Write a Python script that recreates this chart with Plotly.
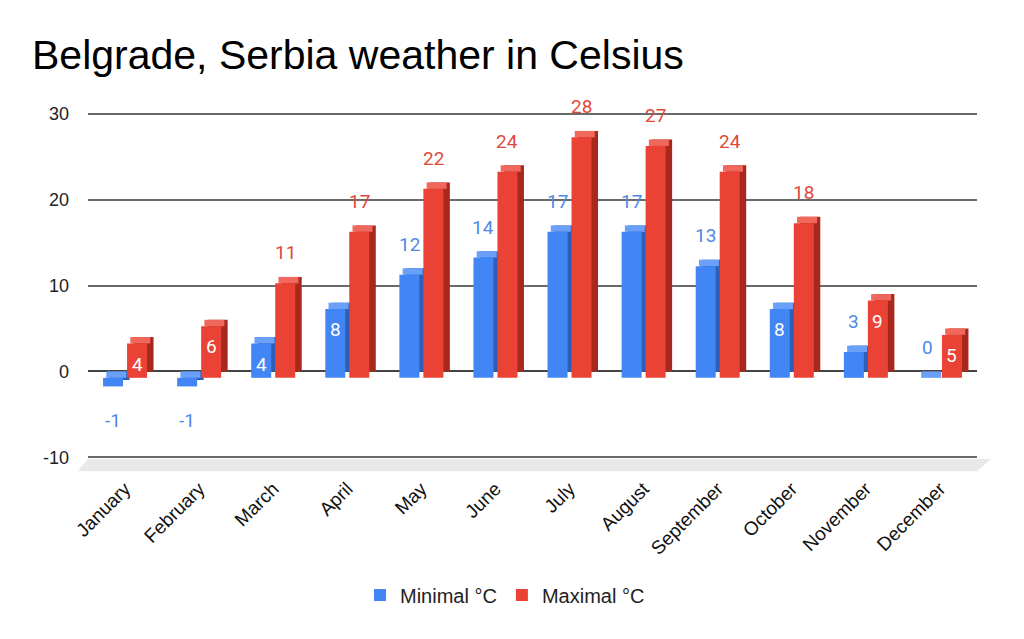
import plotly.graph_objects as go

# ---- data ----
months = ["January", "February", "March", "April", "May", "June", "July",
          "August", "September", "October", "November", "December"]
min_c = [-1, -1, 4, 8, 12, 14, 17, 17, 13, 8, 3, 0]
max_c = [4, 6, 11, 17, 22, 24, 28, 27, 24, 18, 9, 5]
y_ticks = [-10, 0, 10, 20, 30]
y_tick_text = ["-10", "0", "10", "20", "30"]

# which labels sit inside the bar (style choice as in the reference)
min_inside = [False, False, True, True, False, False, False, False, False, True, False, False]
max_inside = [True, True, False, False, False, False, False, False, False, False, True, True]

# ---- geometry / style ----
OFF = 8  # page offset of the figure inside the browser window
W_FIG, H_FIG = 1024, 639
L, T = 88 - OFF, 112 - OFF
R = W_FIG - (977 - OFF)
B = H_FIG - (459 - OFF)
plot_w = W_FIG - L - R
plot_h = H_FIG - T - B
px_per_cat = plot_w / len(months)
y_range = [-10, 30]
px_per_unit = plot_h / (y_range[1] - y_range[0])
pad = 0.2

w = 20 / px_per_cat          # front face width (category units)
d = 6.5 / px_per_cat         # depth shift to the right
s = 6.5 / px_per_unit        # depth shift downward (value units)

series = [
    dict(name="Minimal °C", vals=min_c, inside=min_inside, off=-22 / px_per_cat,
         front="#4285F4", top="#6aa0f7", side="#2c5fb8", lab="#4f88e6"),
    dict(name="Maximal °C", vals=max_c, inside=max_inside, off=2 / px_per_cat,
         front="#EA4335", top="#f0675b", side="#a8281e", lab="#e0483a"),
]

fig = go.Figure()
annotations = []
for sr in series:
    v = sr["vals"]
    # side (back) face
    fig.add_trace(go.Bar(x=months, y=v, base=[0] * len(v), offset=sr["off"] + d, width=w,
                         marker=dict(color=sr["side"], line=dict(width=0)),
                         showlegend=False, hoverinfo="skip"))
    # top face
    fig.add_trace(go.Bar(x=months, y=[s] * len(v), base=[max(val, 0) - s for val in v],
                         offset=sr["off"] + d / 2, width=w,
                         marker=dict(color=sr["top"], line=dict(width=0)),
                         showlegend=False, hoverinfo="skip"))
    # front face
    fig.add_trace(go.Bar(x=months, y=v, base=[-s] * len(v), offset=sr["off"], width=w,
                         name=sr["name"],
                         marker=dict(color=sr["front"], line=dict(width=0)),
                         hoverinfo="skip"))
    xshift = (sr["off"] + w / 2) * px_per_cat
    for m, val, ins in zip(months, v, sr["inside"]):
        if ins:
            ysh, col = -27, "white"
        elif val < 0:
            ysh, col = -41, sr["lab"]
        else:
            ysh, col = 24, sr["lab"]
        annotations.append(dict(x=m, y=val, xref="x", yref="y", text=str(val),
                                showarrow=False, xshift=xshift, yshift=ysh,
                                font=dict(family="Roboto", size=19, color=col)))

annotations.append(dict(text="Belgrade, Serbia weather in Celsius", xref="paper", yref="paper",
                        x=(30 - OFF - L) / plot_w, y=1 + (T - (55 - OFF)) / plot_h,
                        xanchor="left", yanchor="middle", showarrow=False,
                        font=dict(family="Liberation Sans", size=41, color="#000000")))

fig.update_layout(
    width=W_FIG, height=H_FIG,
    margin=dict(l=L, r=R, t=T, b=B),
    paper_bgcolor="white", plot_bgcolor="white",
    barmode="overlay",
    annotations=annotations,
    shapes=[dict(type="path", xref="paper", yref="paper",
                 path="M -0.012,-0.035 L 1.0,-0.035 L 1.016,0 L 0,0 Z",
                 fillcolor="#e9e9e9", line=dict(width=0), layer="below")],
    legend=dict(orientation="h", x=(505 - OFF) / W_FIG, xref="container", xanchor="center",
                y=(H_FIG - (595 - OFF)) / H_FIG, yref="container", yanchor="middle",
                font=dict(family="Liberation Sans", size=20, color="#222222"),
                itemsizing="constant", traceorder="normal", itemwidth=30),
    xaxis=dict(type="category", showgrid=False, showline=False, ticks="",
               tickangle=-45, ticklabelstandoff=14,
               tickfont=dict(family="Liberation Sans", size=19, color="#111111"),
               range=[-0.5, len(months) - 0.5]),
    yaxis=dict(range=[y_range[0] - pad, y_range[1] + pad], tickvals=y_ticks, ticktext=y_tick_text,
               showgrid=True, gridcolor="#6a6a6a", gridwidth=1.5,
               zeroline=True, zerolinecolor="#444444", zerolinewidth=1.6, showline=False,
               ticks="", ticklabelstandoff=18,
               tickfont=dict(family="Liberation Sans", size=18, color="#222222")),
)

fig.write_html("out.html")
